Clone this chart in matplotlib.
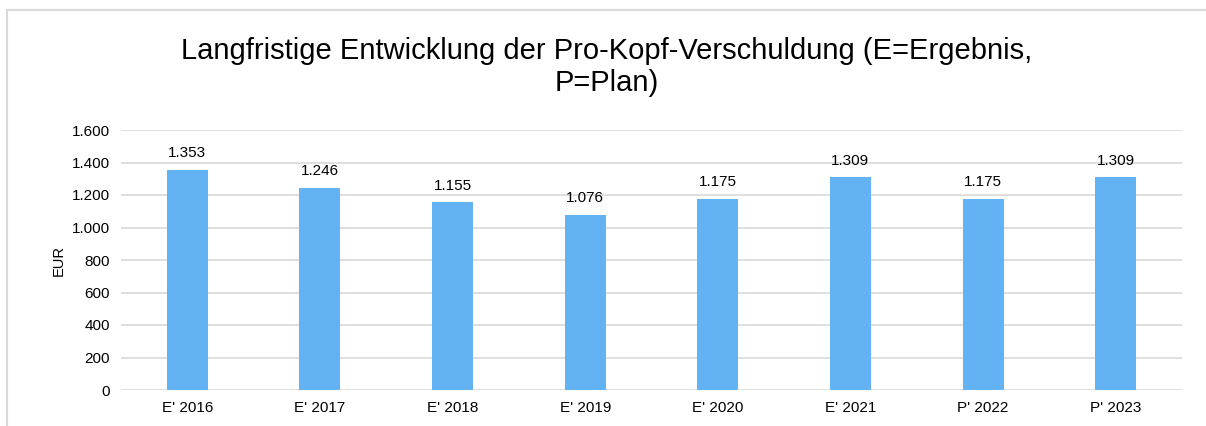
import matplotlib.pyplot as plt
from matplotlib.patches import Rectangle

plt.rcParams["font.family"] = ["Liberation Sans", "DejaVu Sans"]

categories = ["E' 2016", "E' 2017", "E' 2018", "E' 2019", "E' 2020", "E' 2021", "P' 2022", "P' 2023"]
values = [1353, 1246, 1155, 1076, 1175, 1309, 1175, 1309]
y_ticks = [0, 200, 400, 600, 800, 1000, 1200, 1400, 1600]

W, H = 1206, 426
fig = plt.figure(figsize=(W / 100, H / 100), dpi=100)
ax = fig.add_axes([121 / W, (H - 390) / H, (1182 - 121) / W, 260 / H])

x = range(len(categories))
bars = ax.bar(x, values, width=0.31, color="#63B3F4", zorder=3)
for b, v in zip(bars, values):
    ax.annotate(f"{v:,}".replace(",", "."), (b.get_x() + b.get_width() / 2, v),
                xytext=(0, 7), textcoords="offset points",
                ha="center", va="bottom", fontsize=11, color="#000000")

ax.set_xlim(-0.5, len(categories) - 0.5)
ax.set_ylim(0, 1600)
ax.set_yticks(y_ticks)
ax.set_yticklabels([f"{t:,}".replace(",", ".") for t in y_ticks], fontsize=11)
ax.set_xticks(list(x))
ax.set_xticklabels(categories, fontsize=11)
ax.grid(axis="y", color="#D9D9D9", linewidth=1.2, zorder=0)
for s in ax.spines.values():
    s.set_visible(False)
ax.tick_params(length=0, pad=8)
ax.set_ylabel("EUR", fontsize=10.5, labelpad=4)

fig.text(607 / W, (H - 67) / H,
         "Langfristige Entwicklung der Pro-Kopf-Verschuldung (E=Ergebnis,\nP=Plan)",
         ha="center", va="center", fontsize=21, linespacing=1.2)

fig.patches.append(Rectangle((7 / W, -0.1), 1.2, (H - 10) / H + 0.1,
                             transform=fig.transFigure, fill=False,
                             edgecolor="#D9D9D9", linewidth=1.5))

fig.savefig("out.png", dpi=100)
